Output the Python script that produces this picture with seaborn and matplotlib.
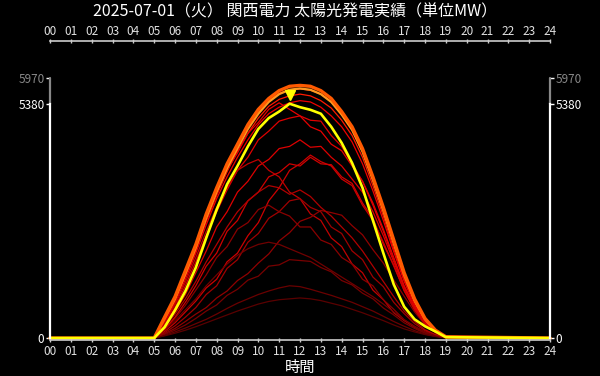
import matplotlib
matplotlib.use("Agg")
import matplotlib.pyplot as plt
import matplotlib.transforms as mtransforms
import seaborn as sns
import numpy as np

# ---------------- data ----------------
title = "2025-07-01（火） 関西電力 太陽光発電実績（単位MW）"
xlabel = "時間"
hour_ticks = list(range(25))
hour_labels = ["00", "01", "02", "03", "04", "05", "06", "07", "08", "09", "10", "11",
               "12", "13", "14", "15", "16", "17", "18", "19", "20", "21", "22", "23", "24"]
y_ticks = [0, 5380, 5970]
y_labels = ["0", "5380", "5970"]

# times: 0h, then 5.0..19.0 every 30 minutes, then 24h
times = [0.0, 5.0, 5.5, 6.0, 6.5, 7.0, 7.5, 8.0, 8.5, 9.0, 9.5, 10.0, 10.5, 11.0, 11.5,
         12.0, 12.5, 13.0, 13.5, 14.0, 14.5, 15.0, 15.5, 16.0, 16.5, 17.0, 17.5, 18.0,
         18.5, 19.0, 24.0]

today = [0, 0, 250, 640, 1080, 1620, 2300, 2950, 3530, 3950, 4400, 4800, 5050, 5200, 5380,
         5300, 5240, 5150, 4850, 4480, 4020, 3450, 2700, 1950, 1230, 720, 430, 270, 150, 20, 0]

envelope = [0, 0, 480, 950, 1550, 2150, 2850, 3450, 4000, 4450, 4900, 5250, 5500, 5680, 5780,
            5800, 5780, 5680, 5500, 5200, 4850, 4350, 3700, 3000, 2250, 1500, 900, 450, 180, 30, 0]
envelope2 = [0, 0, 450, 900, 1480, 2080, 2760, 3360, 3900, 4360, 4800, 5150, 5420, 5600, 5700,
             5730, 5700, 5600, 5420, 5130, 4780, 4280, 3630, 2930, 2180, 1450, 860, 430, 170, 25, 0]

red_series = {
    "A": [0, 0, 420, 900, 1500, 2100, 2800, 3400, 3950, 4400, 4850, 5200, 5450, 5620, 5700, 5720, 5690, 5600, 5420, 5130, 4780, 4280, 3620, 2900, 2150, 1420, 850, 420, 170, 25, 0],
    "B": [0, 0, 380, 850, 1420, 2000, 2680, 3280, 3820, 4300, 4700, 5050, 5320, 5480, 5560, 5600, 5560, 5450, 5280, 5000, 4650, 4150, 3500, 2800, 2050, 1350, 800, 400, 160, 20, 0],
    "C": [0, 0, 350, 800, 1350, 1950, 2600, 3200, 3700, 4150, 4550, 4900, 5150, 5300, 5400, 5450, 5420, 5300, 5100, 4850, 4500, 4000, 3380, 2700, 1980, 1300, 760, 380, 150, 20, 0],
    "D": [0, 0, 400, 870, 1450, 2050, 2720, 3300, 3850, 4250, 4700, 4950, 5250, 5400, 5250, 5100, 4850, 4750, 4450, 4300, 3950, 3600, 3100, 2500, 1850, 1200, 720, 360, 140, 20, 0],
    "E": [0, 0, 300, 700, 1200, 1750, 2350, 2900, 3400, 3850, 4150, 4550, 4750, 4980, 5050, 5100, 5000, 4980, 4650, 4400, 4000, 3600, 3050, 2450, 1800, 1180, 700, 350, 140, 20, 0],
    "F": [0, 0, 260, 600, 1000, 1500, 2000, 2550, 2900, 3350, 3600, 3950, 4100, 4350, 4400, 4550, 4380, 4400, 4150, 3950, 3650, 3350, 2900, 2350, 1750, 1150, 680, 340, 130, 15, 0],
    "G": [0, 0, 150, 350, 600, 850, 1150, 1350, 1750, 1950, 2350, 2650, 3150, 3450, 3850, 4000, 4200, 4050, 3950, 3650, 3500, 3050, 2700, 2200, 1650, 1100, 650, 330, 130, 15, 0],
    "H": [0, 0, 330, 760, 1280, 1850, 2450, 3000, 3450, 3850, 4000, 4100, 3850, 3700, 3350, 3200, 2850, 2700, 2300, 2100, 1700, 1500, 1100, 880, 580, 400, 250, 130, 60, 10, 0],
    "I": [0, 0, 120, 280, 480, 700, 1000, 1200, 1600, 1800, 2200, 2400, 2750, 2900, 3150, 3200, 3000, 2900, 2550, 2400, 2000, 1800, 1400, 1180, 820, 560, 330, 170, 70, 10, 0],
    "J": [0, 0, 200, 450, 750, 1100, 1450, 1850, 2100, 2500, 2650, 2950, 3050, 2900, 2800, 2550, 2550, 2250, 2150, 1850, 1700, 1350, 1200, 880, 660, 420, 270, 140, 60, 10, 0],
    "K": [0, 0, 80, 180, 300, 450, 620, 760, 980, 1120, 1330, 1420, 1650, 1680, 1800, 1780, 1760, 1620, 1520, 1320, 1220, 1030, 900, 690, 530, 350, 220, 110, 45, 5, 0],
    "L": [0, 0, 60, 140, 230, 330, 430, 550, 680, 800, 900, 1000, 1080, 1150, 1200, 1180, 1120, 1050, 980, 900, 820, 720, 620, 500, 380, 270, 170, 90, 40, 5, 0],
    "M": [0, 0, 50, 110, 180, 260, 350, 440, 530, 620, 700, 780, 840, 880, 900, 920, 900, 860, 800, 740, 660, 580, 490, 400, 300, 210, 140, 80, 35, 5, 0],
    "N": [0, 0, 100, 220, 380, 550, 700, 920, 1080, 1320, 1480, 1720, 1930, 2230, 2420, 2680, 2770, 2930, 2880, 2820, 2580, 2370, 2030, 1720, 1330, 960, 600, 300, 120, 15, 0],
    "O": [0, 0, 180, 400, 650, 900, 1200, 1450, 1700, 1900, 2050, 2150, 2200, 2150, 2050, 1950, 1850, 1700, 1550, 1400, 1250, 1100, 950, 780, 600, 420, 260, 130, 55, 8, 0],
    "P": [0, 0, 200, 480, 820, 1200, 1650, 1950, 2450, 2700, 3150, 3350, 3700, 3800, 4000, 3950, 4150, 4000, 3980, 3700, 3550, 3100, 2750, 2150, 1680, 1080, 650, 320, 130, 15, 0],
    "Q": [0, 0, 240, 550, 900, 1300, 1750, 2150, 2550, 2900, 3150, 3350, 3500, 3450, 3300, 3400, 3250, 3000, 2800, 2550, 2300, 2000, 1650, 1300, 950, 620, 380, 190, 80, 10, 0],
}
# colour of each past day (older = darker)
red_colors = {
    "M": "#5a0000", "L": "#6a0000", "O": "#700000", "K": "#780000", "J": "#8a0000",
    "N": "#900000", "I": "#a00000", "Q": "#b00000", "H": "#c00000", "G": "#cc0000",
    "P": "#d00000", "F": "#dd0000", "E": "#e00000", "D": "#e80000", "C": "#f00000",
    "B": "#ff1a00", "A": "#ff2a00",
}

# ---------------- style ----------------
sns.set_theme(style="dark", rc={"axes.facecolor": "black", "figure.facecolor": "black"})
plt.rcParams["font.family"] = ["Noto Sans CJK JP", "DejaVu Sans"]

fig = plt.figure(figsize=(6.0, 3.76), dpi=100)
ax = fig.add_axes([50 / 600, 36 / 376, 500 / 600, 262 / 376])
ax.set_facecolor("black")

for name, vals in red_series.items():
    sns.lineplot(x=times, y=vals, ax=ax, color=red_colors[name], lw=0.9,
                 legend=False, clip_on=False)

sns.lineplot(x=times, y=envelope2, ax=ax, color="#ff9a20", lw=1.6, legend=False, clip_on=False)
sns.lineplot(x=times, y=envelope, ax=ax, color="#ff5a00", lw=2.4, legend=False, clip_on=False)
sns.lineplot(x=times, y=today, ax=ax, color="#ffff00", lw=1.9, legend=False, clip_on=False)

# peak marker
imax = int(np.argmax(today))
offset = mtransforms.ScaledTranslation(0, 6 / 72, fig.dpi_scale_trans)
ax.plot([times[imax]], [today[imax]], marker="v", color="#ffff00", markersize=7,
        linestyle="none", transform=ax.transData + offset, clip_on=False)

ax.set_xlim(0, 24)
ax.set_ylim(-45, 5970)

# spines
ax.spines["top"].set_visible(False)
for s in ["left", "right"]:
    ax.spines[s].set_visible(True)
    ax.spines[s].set_color("white")
    ax.spines[s].set_linewidth(1.6)
    ax.spines[s].set_bounds(0, y_ticks[1])
ax.spines["bottom"].set_visible(True)
ax.spines["bottom"].set_color("#cccccc")
ax.spines["bottom"].set_linewidth(1.2)

# gray extension up to 5970
ax.plot([0, 0], [y_ticks[1], y_ticks[2]], transform=ax.get_yaxis_transform(),
        color="#888888", lw=1.6, clip_on=False)
ax.plot([1, 1], [y_ticks[1], y_ticks[2]], transform=ax.get_yaxis_transform(),
        color="#888888", lw=1.6, clip_on=False)

ax.set_yticks(y_ticks)
ax.set_yticklabels(y_labels)
ax.tick_params(axis="y", left=True, right=True, labelleft=True, labelright=True,
               colors="white", labelsize=8.5, length=3, width=1, pad=1, direction="out")
ticks = ax.yaxis.get_major_ticks()
ticks[2].label1.set_color("#888888")
ticks[2].label2.set_color("#888888")
ticks[2].tick1line.set_color("#888888")
ticks[2].tick2line.set_color("#888888")

ax.set_xticks(hour_ticks)
ax.set_xticklabels(hour_labels)
ax.tick_params(axis="x", bottom=True, colors="#cccccc", labelcolor="#e0e0e0",
               labelsize=8.5, length=3, width=1, pad=2, direction="inout")
ax.grid(False)

# top hour axis
sec = ax.secondary_xaxis(1.141)
sec.set_xticks(hour_ticks)
sec.set_xticklabels(hour_labels)
sec.spines["top"].set_color("#cccccc")
sec.spines["top"].set_linewidth(1.2)
sec.tick_params(axis="x", colors="#cccccc", labelcolor="#e0e0e0", labelsize=8.5,
                length=3, width=1, pad=1, direction="inout")

ax.set_xlabel(xlabel, color="white", fontsize=11, labelpad=1)
ax.set_ylabel("")
fig.text(0.492, 0.968, title, color="white", fontsize=11.5, ha="center", va="center")

fig.savefig("out.png", dpi=100, facecolor="black")
